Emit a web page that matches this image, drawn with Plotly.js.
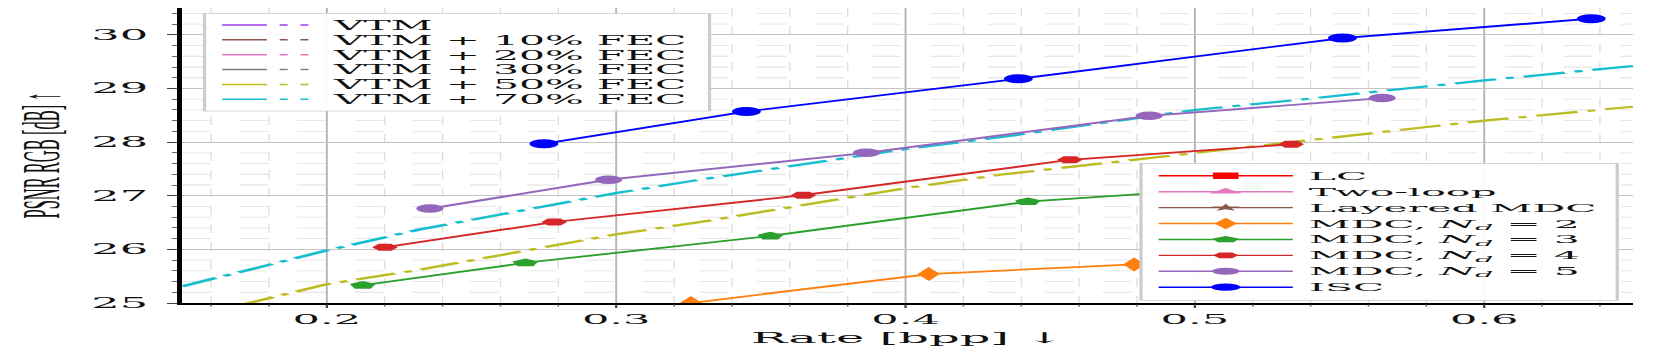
<!DOCTYPE html>
<html>
<head>
<meta charset="utf-8">
<script src="https://cdn.plot.ly/plotly-3.0.1.min.js"></script>
<style>
  html, body { margin: 0; padding: 0; overflow: hidden; background: #fff; }
  /* the reference is a horizontally stretched figure: draw narrow, then stretch */
  #chart { width: 520px; height: 349px; transform: scaleX(3.19615); transform-origin: 0 0; }
  /* matplotlib packs legend rows tighter than plotly does:
     squeeze the legend boxes, keep the glyphs at their normal height */
  #chart g.legend { transform: translate(63.5px, 13px) scale(1, 0.757); }
  #chart g.legend2 { transform: translate(356.5px, 163px) scale(1, 0.81); }
  #chart g.legend .legendtext { transform: scale(1, 1.275); }
  #chart g.legend2 .legendtext { transform: scale(1, 1.19); }
</style>
</head>
<body>
<div id="chart"></div>
<script>
// ===== data =====
const iscRate = [0.275, 0.345, 0.439, 0.551, 0.637];
const iscPsnr = [27.97, 28.57, 29.18, 29.94, 30.30];

const mdc5Rate = [0.2356, 0.2974, 0.3865, 0.4842, 0.5647];
const mdc5Psnr = [26.76, 27.30, 27.80, 28.49, 28.82];

const mdc4Rate = [0.2201, 0.2786, 0.3647, 0.4568, 0.5333];
const mdc4Psnr = [26.04, 26.51, 27.01, 27.67, 27.96];

const mdc3Rate = [0.2124, 0.2686, 0.3533, 0.4423, 0.52];
const mdc3Psnr = [25.33, 25.75, 26.25, 26.89, 27.17];

const mdc2Rate = [0.3258, 0.408, 0.479];
const mdc2Psnr = [25.0, 25.54, 25.72];

// no visible points for these (legend only)
const lcRate = [null], lcPsnr = [null];
const twoLoopRate = [null], twoLoopPsnr = [null];
const layeredRate = [null], layeredPsnr = [null];

const fec70Rate = [0.15, 0.2, 0.232, 0.3, 0.329, 0.4, 0.4325, 0.5, 0.536, 0.6, 0.6515];
const fec70Psnr = [25.31, 25.98, 26.37, 27.05, 27.30, 27.87, 28.09, 28.60, 28.79, 29.15, 29.42];

const fec50Rate = [0.15, 0.173, 0.2, 0.232, 0.3, 0.329, 0.4, 0.4325, 0.5, 0.536, 0.6, 0.6515];
const fec50Psnr = [24.70, 25.0, 25.35, 25.62, 26.28, 26.51, 27.14, 27.39, 27.80, 28.01, 28.40, 28.66];

const vtmNames = ['VTM', 'VTM + 10% FEC', 'VTM + 20% FEC', 'VTM + 30% FEC', 'VTM + 50% FEC', 'VTM + 70% FEC'];
const vtmColors = ['#9a3cf0', '#8c564b', '#e377c2', '#7f7f7f', '#bcbd22', '#17becf'];

// ===== traces =====
const dashDot = '13.5px,3.2px,2.6px,3.2px';

function method(name, x, y, color, symbol, size) {
    return {
        type: 'scatter', mode: 'lines+markers', name, x, y,
        legend: 'legend2',
        line: { color, width: 1.8 },
        marker: { color, symbol, size, line: { width: 0 } },
        hoverinfo: 'skip'
    };
}

const data = [];

// dash-dot VTM curves (legend handled by the entries below)
data.push({ type: 'scatter', mode: 'lines', x: fec50Rate, y: fec50Psnr, showlegend: false,
    line: { color: vtmColors[4], width: 2.2, dash: dashDot }, hoverinfo: 'skip' });
data.push({ type: 'scatter', mode: 'lines', x: fec70Rate, y: fec70Psnr, showlegend: false,
    line: { color: vtmColors[5], width: 2.2, dash: dashDot }, hoverinfo: 'skip' });

// legend entries: solid piece followed by short dashes
vtmNames.forEach((n, i) => {
    data.push({ type: 'scatter', mode: 'lines', x: [null], y: [null], name: n, legend: 'legend',
        line: { color: vtmColors[i], width: 2, dash: '14px,4px,2.5px,4px,2.5px,40px' } });
});

data.push(method('LC', lcRate, lcPsnr, '#ff0000', 'square', 8));
data.push(method('Two-loop', twoLoopRate, twoLoopPsnr, '#e377c2', 'triangle-up', 9));
data.push(method('Layered MDC', layeredRate, layeredPsnr, '#8c564b', 'star', 7));
data.push(method('MDC, <i>N</i><sub><i>d</i></sub> = 2', mdc2Rate, mdc2Psnr, '#ff7f0e', 'diamond-tall', 10));
data.push(method('MDC, <i>N</i><sub><i>d</i></sub> = 3', mdc3Rate, mdc3Psnr, '#2ca02c', 'pentagon', 8.5));
data.push(method('MDC, <i>N</i><sub><i>d</i></sub> = 4', mdc4Rate, mdc4Psnr, '#d62728', 'hexagon2', 8));
data.push(method('MDC, <i>N</i><sub><i>d</i></sub> = 5', mdc5Rate, mdc5Psnr, '#9467bd', 'circle', 8.5));
data.push(method('ISC', iscRate, iscPsnr, '#0000ff', 'circle', 9));

// ===== layout =====
const legendBase = {
    bgcolor: 'rgba(255,255,255,0.95)',
    bordercolor: '#cccccc',
    borderwidth: 1,
    font: { family: 'DejaVu Serif', size: 12.8, color: '#111' },
    tracegroupgap: 0
};

const layout = {
    width: 520,
    height: 349,
    margin: { l: 57, r: 9, t: 8, b: 46 },
    paper_bgcolor: '#fff',
    plot_bgcolor: '#fff',
    font: { family: 'DejaVu Serif', color: '#111' },
    xaxis: {
        range: [0.15, 0.6515],
        tick0: 0, dtick: 0.1, tickformat: '.1f',
        showgrid: true, gridcolor: '#b4b4b4', gridwidth: 0.6,
        zeroline: false,
        showline: true, linecolor: '#000', linewidth: 1.5,
        ticks: 'outside', ticklen: 3.5, tickwidth: 0.7, tickcolor: '#444',
        tickfont: { family: 'DejaVu Serif', size: 13.5, color: '#111' },
        minor: { tick0: 0, dtick: 0.02, showgrid: true, gridcolor: '#dcdcdc', griddash: 'dash',
            gridwidth: 0.4, ticks: 'outside', ticklen: 2, tickwidth: 0.5, tickcolor: '#666' },
        title: { text: 'Rate [bpp] \u2193', font: { family: 'DejaVu Serif', size: 15, color: '#111' }, standoff: 6 }
    },
    yaxis: {
        range: [25, 30.5],
        tick0: 0, dtick: 1,
        showgrid: true, gridcolor: '#c4c4c4', gridwidth: 1,
        zeroline: false,
        showline: true, linecolor: '#000', linewidth: 1.5,
        ticks: 'outside', ticklen: 3.3, tickwidth: 1, tickcolor: '#444',
        ticklabelstandoff: 3,
        tickfont: { family: 'DejaVu Serif', size: 14, color: '#111' },
        minor: { tick0: 0, dtick: 0.2, showgrid: true, gridcolor: '#e0e0e0', griddash: 'dash',
            gridwidth: 0.8, ticks: 'outside', ticklen: 1.6, tickwidth: 1, tickcolor: '#666' },
        title: { text: 'PSNR RGB [dB] \u2191', font: { family: 'Liberation Serif', size: 16.5, color: '#111' }, standoff: 5 }
    },
    legend: Object.assign({}, legendBase, {
        x: 0.0138, y: 0.98, xanchor: 'left', yanchor: 'top', itemwidth: 30
    }),
    legend2: Object.assign({}, legendBase, {
        x: 0.9853, y: 0.4746, xanchor: 'right', yanchor: 'top', itemwidth: 42
    }),
    showlegend: true
};

Plotly.newPlot('chart', data, layout, { displayModeBar: false, staticPlot: true });
</script>
</body>
</html>
